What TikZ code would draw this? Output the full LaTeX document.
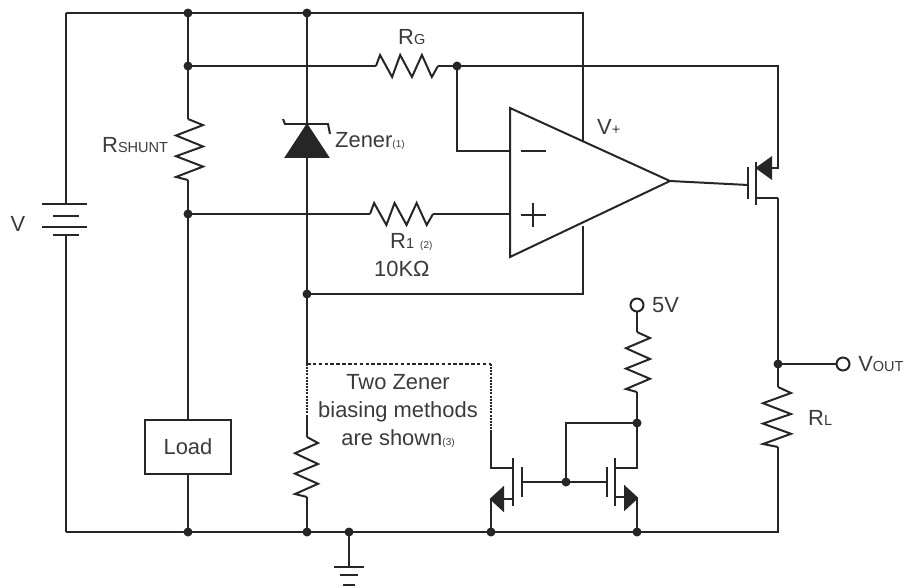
\documentclass[tikz,border=0pt]{standalone}
\usepackage{fontspec}
\setmainfont{Liberation Sans}
\definecolor{inkwire}{HTML}{262626}
\definecolor{inktext}{HTML}{3A3A3A}
\tikzset{
	wire/.style={line width=1.7pt, color=inkwire, line join=miter},
	plate/.style={line width=2.1pt, color=inkwire},
	label/.style={inner sep=0pt, text=inktext, anchor=west, font=\fontsize{18.7}{23.5}\selectfont},
}
\def\sm#1{{\fontsize{12.4}{14}\selectfont #1}}
\def\tn#1{{\fontsize{8.5}{10}\selectfont #1}}
\def\zigv(#1)#2#3#4{\draw[wire] (#1) -- ++(#3,.1*#2) -- ++(#4-#3,.17*#2) -- ++(#3-#4,.18*#2) -- ++(#4-#3,.16*#2) -- ++(#3-#4,.17*#2) -- ++(#4-#3,.17*#2) -- ++(-#4,.05*#2);}
\def\zigh(#1)#2{\draw[wire] (#1) -- ++(.065*#2,-11) -- ++(.195*#2,22) -- ++(.13*#2,-22) -- ++(.19*#2,22) -- ++(.16*#2,-22) -- ++(.16*#2,22) -- ++(.1*#2,-11);}

\begin{document}
\begin{tikzpicture}[x=0.03cm, y=-0.03cm]
	\useasboundingbox (0,0) rectangle (908,587);
	%%%%% junctions %%%%%
	\coordinate (tl) at (66,13);
	\coordinate (tshunt) at (188,13);
	\coordinate (tzener) at (307,13);
	\coordinate (tr) at (583,13);
	\coordinate (bl) at (66,532);
	\coordinate (bshunt) at (188,532);
	\coordinate (bzener) at (307,532);
	\coordinate (bgnd) at (349,532);
	\coordinate (bq1) at (491,532);
	\coordinate (bq2) at (637,532);
	\coordinate (br) at (778,532);
	\coordinate (sense) at (188,66);
	\coordinate (fb) at (457,66);
	\coordinate (topr) at (778,66);
	\coordinate (inp) at (188,214);
	\coordinate (vss) at (307,294);
	\coordinate (vout) at (778,364);
	\coordinate (qgate) at (566,482);
	\coordinate (qtie) at (637,423);
	
	%%%%% outer loop and battery %%%%%
	\draw[wire] (bl) -- (66,235);
	\draw[wire] (tl) -- (66,204);
	\draw[wire] (tl) -- (tr) -- (583,141);
	\draw[wire] (bl) -- (br) -- (778,447);
	\draw[plate] (42,204) -- (87,204);
	\draw[plate] (53,216) -- (79,216);
	\draw[plate] (42,227) -- (87,227);
	\draw[plate] (53,235) -- (79,235);
	\node[label, anchor=center] (vbat) at (18,224) {V};
	
	%%%%% shunt and load %%%%%
	\draw[wire] (tshunt) -- (188,119);
	\zigv(188,119){61}{15}{-12}
	\draw[wire] (188,180) -- (inp);
	\node[wire, draw, minimum width=86*0.03cm, minimum height=54*0.03cm, inner sep=0pt, text=inktext, font=\fontsize{18.7}{23.5}\selectfont] (load) at (188,447) {Load};
	\draw[wire] (inp) -- (load);
	\draw[wire] (load) -- (bshunt);
	\node[label] (rshunt) at (102,145) {R\sm{SHUNT}};
	
	%%%%% zener %%%%%
	\draw[wire] (tzener) -- (vss) -- (307,364);
	\draw[wire, fill=inkwire] (307,125) -- (328,157) -- (286,157) -- cycle;
	\draw[wire] (283,119) -- (285,124) -- (328,124) -- (330,134);
	\node[label] (zener) at (335,141) {Zener\tn{(1)}};
	
	%%%%% sense resistors and opamp %%%%%
	\draw[wire] (sense) -- (376,66);
	\zigh(376,66){62}
	\draw[wire] (438,66) -- (fb) -- (topr) -- (778,168) -- (772,168);
	\draw[wire] (fb) -- (457,151) -- (510,151);
	\draw[wire] (inp) -- (370,214);
	\zigh(370,214){63}
	\draw[wire] (433,214) -- (510,214);
	\draw[wire] (510,108) -- (670,181) -- (510,257) -- cycle;
	\draw[plate] (521,151) -- (546,151);
	\draw[plate] (521,215) -- (546,215);
	\draw[plate] (533,203) -- (533,227);
	\draw[wire] (vss) -- (583,294) -- (583,226);
	\draw[wire] (670,181) -- (748,185);
	\node[label] (rg) at (398,37) {R\sm{G}};
	\node[label] (rone) at (390,242) {R\sm{1} \tn{(2)}};
	\node[label] (rval) at (374,269) {10KΩ};
	\node[label] (vplus) at (597,127) {V\sm{+}};
	
	%%%%% pass fet %%%%%
	\draw[plate] (748,167) -- (748,199);
	\draw[plate] (756,162) -- (756,205);
	\draw[wire] (757,168) -- (772,168);
	\draw[wire, fill=inkwire] (757,168) -- (771,158) -- (771,178) -- cycle;
	\draw[wire] (756,198) -- (778,198);
	
	%%%%% output %%%%%
	\draw[wire] (vout) -- (836,364);
	\draw[wire] (843,364) circle (6.5);
	\draw[wire] (778,198) -- (vout) -- (778,387);
	\zigv(778,387){60}{13}{-15}
	\node[label] (voutl) at (858,364) {V\sm{OUT}};
	\node[label] (rl) at (808,418) {R\sm{L}};
	
	%%%%% bias box %%%%%
	\draw[wire, densely dashed] (307,364) -- (491,364);
	\draw[wire, densely dotted] (491,364) -- (491,432);
	\draw[wire, densely dotted] (307,364) -- (307,415);
	\draw[wire] (307,415) -- (307,437);
	\zigv(307,437){60}{11}{-12}
	\draw[wire] (307,497) -- (bzener);
	\node[label, anchor=center, align=center] (note) at (398,411) {Two Zener\\biasing methods\\are shown\tn{(3)}};
	
	%%%%% current mirror %%%%%
	\draw[wire] (491,432) -- (491,468) -- (513,468);
	\draw[wire] (513,499) -- (503,499);
	\draw[wire, fill=inkwire] (491,499) -- (503,488) -- (503,510) -- cycle;
	\draw[wire] (491,499) -- (bq1);
	\draw[plate] (513,458) -- (513,506);
	\draw[plate] (522,467) -- (522,497);
	\draw[plate] (607,467) -- (607,497);
	\draw[plate] (615,458) -- (615,506);
	\draw[wire] (522,482) -- (qgate) -- (607,482);
	\draw[wire] (qgate) -- (566,423) -- (qtie);
	\draw[wire] (615,468) -- (637,468) -- (qtie);
	\draw[wire] (615,497) -- (625,497);
	\draw[wire, fill=inkwire] (637,498) -- (625,487) -- (625,509) -- cycle;
	\draw[wire] (637,498) -- (bq2);
	\draw[wire] (qtie) -- (637,392);
	\zigv(637,332){60}{13}{-11}
	\draw[wire] (637,332) -- (637,312);
	\draw[wire] (637,305) circle (6.5);
	\node[label] (five) at (652,305) {5V};
	
	%%%%% ground %%%%%
	\draw[wire] (bgnd) -- (349,567);
	\draw[plate] (334,567) -- (364,567);
	\draw[plate] (340,575) -- (358,575);
	\draw[plate] (343,585) -- (355,585);
	
	\foreach \pt in {tshunt,tzener,sense,fb,inp,vss,vout,qgate,qtie,bshunt,bzener,bgnd,bq1,bq2}
		\fill[inkwire] (\pt) circle (4.5);
\end{tikzpicture}
\end{document}
